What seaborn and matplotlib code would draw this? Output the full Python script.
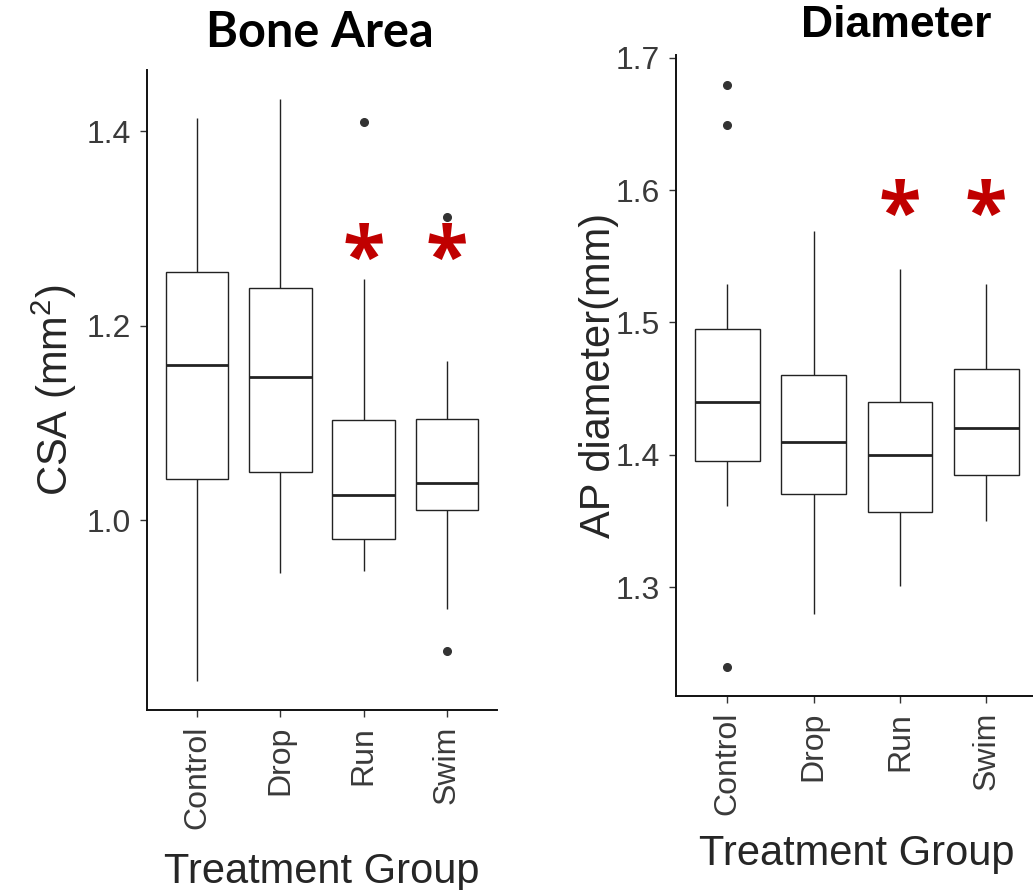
import matplotlib
matplotlib.use("Agg")
import matplotlib.pyplot as plt
import seaborn as sns
import pandas as pd

# Grupos de tratamiento
groups = ['Control', 'Drop', 'Run', 'Swim']

# CSA (mm^2) por grupo
csa_control = [0.835, 0.98, 1.042, 1.10, 1.160, 1.21, 1.255, 1.33, 1.414]
csa_drop = [0.946, 1.01, 1.050, 1.10, 1.147, 1.19, 1.239, 1.33, 1.433]
csa_run = [0.948, 0.965, 0.981, 1.00, 1.026, 1.06, 1.103, 1.248, 1.410]
csa_swim = [0.866, 0.909, 1.011, 1.02, 1.038, 1.07, 1.104, 1.164, 1.312]

# AP diameter (mm) por grupo
ap_control = [1.240, 1.361, 1.38, 1.395, 1.41, 1.43, 1.440, 1.46, 1.48,
              1.495, 1.529, 1.649, 1.679]
ap_drop = [1.280, 1.33, 1.370, 1.39, 1.410, 1.44, 1.460, 1.51, 1.569]
ap_run = [1.301, 1.33, 1.357, 1.38, 1.400, 1.42, 1.440, 1.49, 1.540]
ap_swim = [1.350, 1.37, 1.385, 1.40, 1.420, 1.44, 1.465, 1.50, 1.529]

# Grupos significativos (asteriscos)
sig_groups = ['Run', 'Swim']
csa_sig_y = 1.282
ap_sig_y = 1.591

csa_ticks = [1.0, 1.2, 1.4]
ap_ticks = [1.3, 1.4, 1.5, 1.6, 1.7]

sns.set_theme(style="ticks")
plt.rcParams['font.family'] = ['Liberation Sans', 'DejaVu Sans']
plt.rcParams['mathtext.fontset'] = 'custom'
plt.rcParams['mathtext.rm'] = 'Liberation Sans'
plt.rcParams['mathtext.it'] = 'Liberation Sans'

W, H = 1033, 890


def tabla_larga(valores):
    """Convierte listas por grupo en tabla larga para seaborn"""
    return pd.DataFrame({
        'group': [g for g, v in zip(groups, valores) for _ in v],
        'value': [x for v in valores for x in v],
    })


def panel(ax, df, ylim, yticks, ylabel, sig_y, ylab_x, xlab_y):
    sns.boxplot(
        data=df, x='group', y='value', order=groups, ax=ax,
        width=0.75, color='white', linecolor='#222222', linewidth=1.0,
        medianprops=dict(linewidth=2.0, color='#222222'),
        capprops=dict(linewidth=0),
        flierprops=dict(marker='o', markerfacecolor='#333333',
                        markeredgecolor='#333333', markersize=5.5),
    )
    ax.set_xlim(-0.6, 3.6)
    ax.set_ylim(*ylim)
    ax.set_yticks(yticks)
    ax.set_yticklabels([f"{t:.1f}" for t in yticks])
    ax.tick_params(axis='both', length=5, width=1.0, pad=6.5, color='#333333',
                   labelcolor='#3a3a3a', labelsize=23)
    ax.tick_params(axis='x', labelrotation=90)
    for side in ['left', 'bottom']:
        ax.spines[side].set_linewidth(1.4)
        ax.spines[side].set_color('#111111')
    sns.despine(ax=ax)
    ax.set_facecolor('white')

    ax.set_xlabel('Treatment Group', fontsize=30, va='baseline')
    ax.xaxis.set_label_coords(0.5, xlab_y)
    ax.set_ylabel(ylabel, fontsize=30, va='baseline')
    ax.yaxis.set_label_coords(ylab_x, 0.5)

    # Asteriscos de significancia
    for g in sig_groups:
        ax.annotate('*', xy=(groups.index(g), sig_y), xytext=(0, -11.5),
                    textcoords='offset points', ha='center', va='center',
                    fontsize=56, fontweight='bold', color='#C00000',
                    family='Open Sans')


fig = plt.figure(figsize=(W / 100, H / 100), dpi=100)
fig.patch.set_facecolor('white')

ax1 = fig.add_axes([147 / W, 1 - 710 / H, 350 / W, 640 / H])
ax2 = fig.add_axes([675.7 / W, 1 - 695.7 / H, 362.3 / W, 640.7 / H])

panel(ax1, tabla_larga([csa_control, csa_drop, csa_run, csa_swim]),
      (0.805, 1.463), csa_ticks, 'CSA (mm$^2$)', csa_sig_y, -0.225, -0.270)
panel(ax2, tabla_larga([ap_control, ap_drop, ap_run, ap_swim]),
      (1.218, 1.702), ap_ticks, 'AP diameter(mm)', ap_sig_y, -0.181, -0.264)

fig.text(320 / W, 1 - 47 / H, 'Bone Area', ha='center', va='baseline',
         fontsize=35, fontweight='bold', family='Lato', color='black')
fig.text(896 / W, 1 - 37 / H, 'Diameter', ha='center', va='baseline',
         fontsize=32, fontweight='bold', family='Liberation Sans', color='black')

fig.savefig('out.png', dpi=100)
